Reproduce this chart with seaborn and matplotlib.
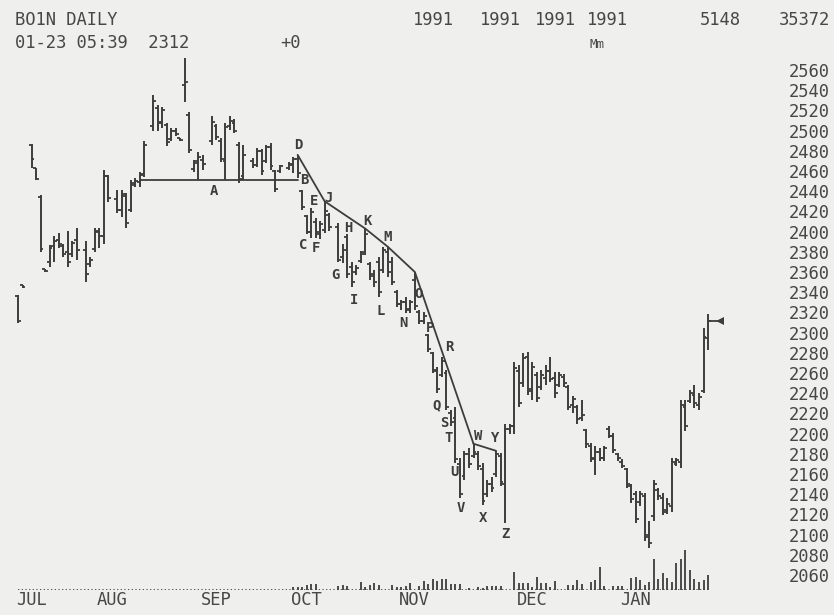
import matplotlib
matplotlib.use("Agg")
import matplotlib.pyplot as plt
import numpy as np
import pandas as pd
import seaborn as sns

# ---------------------------------------------------------------- data
# trading-session number of every bar (gaps = sessions without a print)
sessions = [0, 1, 3, 4, 5, 6, 7, 8, 9, 10, 11, 12, 13,
            15, 16, 17, 18, 19, 20,
            22, 23, 24, 25, 26, 27, 28,
            30, 31, 32, 33, 34, 35, 36, 37, 38, 39, 40, 41,
            43, 44, 45, 46, 47, 48, 49, 50,
            52, 53, 54, 55, 56, 57, 58,
            60, 61, 62, 63, 64, 65, 66, 67, 68, 69,
            71, 72, 73, 74, 75,
            76, 77, 78, 79, 80, 81, 82, 83, 84, 85, 86, 87, 88, 89, 90, 91,
            92, 93, 94, 95, 96, 97, 98, 99, 100, 101, 102, 103, 104, 105, 106,
            107, 108, 109, 110, 111, 112, 113, 114, 115, 116, 117, 118, 119,
            120, 121, 122, 123, 124, 125, 126, 127, 128, 129, 130, 131, 132,
            133, 134, 135, 136, 137, 138, 139, 140, 141, 142, 143, 144, 145,
            146, 147, 148, 149, 150, 151, 152, 153]

high = [2337, 2347, 2487, 2463, 2436, 2363, 2387, 2396, 2399, 2388,
        2401, 2391, 2404, 2391, 2375, 2404, 2404, 2461, 2456, 2441,
        2441, 2438, 2451, 2453, 2459, 2490, 2535, 2525, 2523, 2508,
        2503, 2503, 2493, 2572, 2518, 2471, 2479, 2476, 2514, 2507,
        2493, 2508, 2514, 2511, 2489, 2486, 2473, 2483, 2482, 2486,
        2488, 2461, 2466, 2469, 2474, 2476, 2441, 2416, 2423, 2413,
        2411, 2430, 2418, 2409, 2388, 2398, 2370, 2367, 2381, 2403,
        2370, 2362, 2375, 2385, 2385, 2375, 2342, 2332, 2335, 2332,
        2360, 2322, 2320, 2299, 2281, 2266, 2276, 2263, 2223, 2226,
        2176, 2183, 2186, 2190, 2183, 2171, 2154, 2157, 2183, 2181,
        2210, 2210, 2271, 2268, 2280, 2281, 2271, 2261, 2263, 2268,
        2276, 2261, 2261, 2259, 2248, 2237, 2228, 2233, 2205, 2191,
        2188, 2186, 2188, 2208, 2201, 2181, 2175, 2166, 2150, 2143,
        2143, 2141, 2114, 2154, 2146, 2141, 2136, 2176, 2176, 2233,
        2233, 2243, 2248, 2240, 2305, 2318]

low = [2310, 2344, 2463, 2451, 2380, 2360, 2365, 2370, 2384, 2375,
       2365, 2375, 2372, 2350, 2365, 2380, 2384, 2388, 2429, 2418,
       2414, 2404, 2419, 2444, 2444, 2454, 2500, 2500, 2503, 2485,
       2490, 2495, 2490, 2528, 2478, 2459, 2451, 2461, 2486, 2491,
       2469, 2451, 2501, 2498, 2448, 2451, 2463, 2464, 2456, 2468,
       2461, 2439, 2458, 2461, 2458, 2453, 2421, 2398, 2394, 2394,
       2393, 2399, 2401, 2370, 2369, 2354, 2345, 2357, 2369, 2377,
       2352, 2345, 2335, 2359, 2355, 2347, 2325, 2322, 2319, 2319,
       2322, 2309, 2309, 2281, 2260, 2240, 2256, 2223, 2208, 2171,
       2136, 2154, 2166, 2176, 2164, 2129, 2137, 2142, 2157, 2148,
       2112, 2200, 2200, 2226, 2246, 2238, 2233, 2231, 2243, 2248,
       2251, 2235, 2246, 2246, 2223, 2220, 2210, 2213, 2186, 2172,
       2159, 2173, 2173, 2196, 2181, 2173, 2166, 2146, 2131, 2112,
       2128, 2094, 2087, 2114, 2134, 2119, 2120, 2122, 2168, 2166,
       2203, 2230, 2225, 2223, 2240, 2283]

open_ = [2336, 2347, 2486, 2463, 2434, 2363, 2370, 2386, 2392, 2386,
         2380, 2378, 2392, 2382, 2368, 2383, 2400, 2396, 2455, 2432,
         2421, 2435, 2421, 2446, 2449, 2457, 2505, 2522, 2509, 2506,
         2492, 2500, 2493, 2545, 2515, 2462, 2470, 2471, 2490, 2505,
         2490, 2470, 2505, 2508, 2486, 2455, 2470, 2466, 2480, 2470,
         2484, 2460, 2460, 2463, 2466, 2472, 2440, 2415, 2400, 2410,
         2400, 2402, 2416, 2405, 2375, 2395, 2365, 2360, 2371, 2380,
         2368, 2358, 2370, 2362, 2380, 2370, 2340, 2328, 2330, 2323,
         2352, 2320, 2312, 2298, 2280, 2262, 2258, 2260, 2220, 2215,
         2170, 2158, 2180, 2178, 2180, 2165, 2140, 2150, 2160, 2178,
         2150, 2205, 2208, 2262, 2250, 2276, 2244, 2258, 2246, 2255,
         2262, 2255, 2248, 2256, 2246, 2228, 2226, 2215, 2204, 2188,
         2175, 2182, 2176, 2205, 2198, 2180, 2172, 2165, 2148, 2140,
         2132, 2138, 2100, 2118, 2144, 2136, 2122, 2128, 2170, 2172,
         2226, 2232, 2238, 2228, 2242, 2295]

close = [2312, 2345, 2472, 2452, 2383, 2361, 2384, 2391, 2388, 2378,
         2370, 2389, 2382, 2358, 2372, 2401, 2396, 2455, 2433, 2421,
         2437, 2409, 2448, 2450, 2456, 2486, 2529, 2508, 2520, 2489,
         2500, 2497, 2491, 2548, 2481, 2468, 2474, 2467, 2509, 2494,
         2472, 2504, 2510, 2500, 2452, 2476, 2466, 2480, 2460, 2484,
         2465, 2442, 2465, 2467, 2472, 2458, 2424, 2400, 2419, 2398,
         2408, 2420, 2405, 2372, 2382, 2358, 2350, 2364, 2378, 2398,
         2356, 2350, 2340, 2382, 2360, 2350, 2328, 2330, 2322, 2330,
         2326, 2312, 2316, 2284, 2263, 2244, 2272, 2226, 2212, 2175,
         2140, 2180, 2170, 2182, 2168, 2133, 2150, 2146, 2180, 2152,
         2205, 2208, 2265, 2230, 2275, 2242, 2266, 2235, 2258, 2262,
         2254, 2240, 2258, 2250, 2226, 2234, 2214, 2218, 2190, 2176,
         2182, 2176, 2186, 2198, 2184, 2176, 2168, 2150, 2135, 2115,
         2140, 2098, 2092, 2150, 2138, 2124, 2130, 2172, 2174, 2228,
         2208, 2240, 2230, 2236, 2296, 2312]

volume = [0, 0, 0, 0, 0, 0, 0, 0, 0, 0,
          0, 0, 0, 0, 0, 0, 0, 0, 0, 0,
          0, 0, 0, 0, 0, 0, 0, 0, 0, 0,
          0, 0, 0, 0, 0, 0, 0, 0, 0, 0,
          0, 0, 0, 0, 0, 0, 0, 0, 0, 0,
          0, 0, 0, 0, 350, 430, 430, 650, 780, 780,
          0, 0, 0, 560, 650, 560, 0, 0, 1000, 430,
          650, 870, 650, 0, 0, 650, 350, 350, 560, 870,
          0, 560, 1210, 780, 1430, 1210, 1430, 1430, 780, 780,
          780, 0, 260, 0, 350, 260, 560, 560, 560, 560,
          0, 0, 2340, 910, 910, 910, 390, 1650, 870, 870,
          390, 1210, 0, 0, 650, 650, 1300, 780, 0, 1080,
          1300, 2950, 520, 0, 520, 520, 520, 0, 1520, 1650,
          1300, 650, 1080, 4030, 1430, 2210, 1560, 1040, 3510, 4030,
          5200, 2600, 1430, 1040, 1300, 1950]

month_names = ["JUL", "AUG", "SEP", "OCT", "NOV", "DEC", "JAN"]
month_sessions = [0, 18, 41, 61, 85, 111, 134]
price_ticks = [2060, 2080, 2100, 2120, 2140, 2160, 2180, 2200, 2220, 2240,
               2260, 2280, 2300, 2320, 2340, 2360, 2380, 2400, 2420, 2440,
               2460, 2480, 2500, 2520, 2540, 2560]

last_price = 2312
support_level = 2451
support_bars = [24, 55]                 # first / last bar of the support line
trend_bars = [55, 61, 69, 74, 80, 93]   # highs joined by the down-trend line
rebound_bars = [93, 98]                 # highs joined by the short W-Y line

# wave letters: (letter, bar, anchor)
wave_letters = list("ABCDEFGHIJKLMNOPQRSTUVWXYZ")
wave_bars = [38, 56, 57, 55, 58, 59, 63, 65, 66, 61, 69, 72, 74,
             78, 81, 83, 85, 86, 87, 88, 89, 90, 93, 95, 98, 100]
wave_anchor = ["sup", "hi", "lo", "hi", "hi", "lo", "lo", "hi", "lo", "hi",
               "hi", "lo", "hi", "lo", "hi", "hi", "lo", "hi", "lo", "lo",
               "lo", "lo", "hi", "lo", "hi", "lo"]

n = len(sessions)
for arr in (high, low, open_, close, volume):
    assert len(arr) == n, len(arr)

# ---------------------------------------------------------------- style
BG = "#efefed"
INK = "#3d3d3d"
TXT = "#474747"
MONO = ["DejaVu Sans Mono", "DejaVu Sans"]

sns.set_style("white", rc={"axes.facecolor": BG, "figure.facecolor": BG})
plt.rcParams["font.family"] = MONO

W, H = 834, 615
fig = plt.figure(figsize=(W / 100, H / 100), dpi=100, facecolor=BG)


def px_box(left, top, right, bottom):
    return [left / W, 1 - bottom / H, (right - left) / W, (bottom - top) / H]


XLIM = (-3.99, 168.96)
ax = fig.add_axes(px_box(0, 20, 780, 590))
ax.set_facecolor(BG)
ax.set_xlim(*XLIM)
ax.set_ylim(2045.2, 2609.5)

ax_vol = fig.add_axes(px_box(0, 490, 780, 590))
ax_vol.patch.set_alpha(0)
ax_vol.set_xlim(*XLIM)
ax_vol.set_ylim(0, 13000)
ax_vol.axis("off")

x = np.array(sessions, dtype=float)
hi = np.array(high, dtype=float)
lo = np.array(low, dtype=float)
op = np.array(open_, dtype=float)
cl = np.array(close, dtype=float)
tick = 0.65

# ---------------------------------------------------------------- price bars
ax.vlines(x, lo, hi, color=INK, lw=1.4)
ax.hlines(op, x - tick, x, color=INK, lw=1.3)
ax.hlines(cl, x, x + tick, color=INK, lw=1.3)

# ---------------------------------------------------------------- trend lines
seg_rows = []
for b in support_bars:
    seg_rows.append(("support", x[b], support_level))
for b in trend_bars:
    seg_rows.append(("trend", x[b], hi[b]))
for b in rebound_bars:
    seg_rows.append(("rebound", x[b], hi[b]))
lines = pd.DataFrame(seg_rows, columns=["segment", "session", "price"])
sns.lineplot(data=lines, x="session", y="price", units="segment",
             estimator=None, sort=False, color=INK, lw=1.3, ax=ax,
             legend=False)

# ---------------------------------------------------------------- wave letters
letter_offsets = {
    "A": (2, -11), "B": (2, 10), "C": (-3, -11), "D": (1, 10), "E": (3, 7),
    "F": (0, -10), "G": (-3, -13), "H": (1, 6), "I": (2, -13), "J": (4, 3),
    "K": (2, 8), "L": (2, -14), "M": (0, 10), "N": (-2, -10), "O": (-1, 16),
    "P": (2, 6), "Q": (-1, -12), "R": (7, 10), "S": (-2, -13), "T": (-2, -12),
    "U": (-1, -9), "V": (1, -10), "W": (5, 8), "X": (0, -13), "Y": (-1, 13),
    "Z": (0, -11),
}
for letter, b, anc in zip(wave_letters, wave_bars, wave_anchor):
    if anc == "hi":
        yv = hi[b]
    elif anc == "lo":
        yv = lo[b]
    else:
        yv = support_level
    ax.annotate(letter, xy=(x[b], yv), xytext=letter_offsets[letter],
                textcoords="offset pixels", ha="center", va="center",
                fontsize=10, fontweight="bold", color=INK, family=MONO)

# last-price flag
ax.plot([x[-1], x[-1] + 2.4], [last_price, last_price], color=INK, lw=1.3)
ax.plot([x[-1] + 2.6], [last_price], marker="<", ms=5.5, color=INK,
        markeredgewidth=0)

# ---------------------------------------------------------------- axes cosmetics
for side in ax.spines.values():
    side.set_visible(False)
ax.set_xticks([])
ax.set_xlabel("")
ax.set_ylabel("")
ax.yaxis.tick_right()
ax.set_yticks(price_ticks)
ax.set_yticklabels([str(v) for v in price_ticks])
ax.tick_params(axis="y", length=0, pad=6, labelsize=12.3, labelcolor=TXT)

# ---------------------------------------------------------------- volume
vol = np.array(volume, dtype=float)
ax_vol.plot([x[0], x[-1]], [0, 0], color=INK, lw=1.2,
            linestyle=(0, (0.8, 1.4)))
ax_vol.vlines(x, 0, vol, color=INK, lw=1.3)

for name, s in zip(month_names, month_sessions):
    ax_vol.annotate(name, xy=(s, 0), xytext=(-2, -10),
                    textcoords="offset pixels", ha="left", va="center",
                    fontsize=12.3, color=TXT, family=MONO)

# ---------------------------------------------------------------- header
def header(px, py, s, size=12.3):
    fig.text(px / W, 1 - py / H, s, ha="left", va="center",
             fontsize=size, color=TXT, family=MONO)


header(15, 20, "BO1N DAILY")
header(15, 43, "01-23 05:39  2312")
header(280, 43, "+0")
for px in (413, 480, 535, 587):
    header(px, 20, "1991")
header(589, 44, "Mm", size=9)
header(700, 20, "5148")
header(779, 20, "35372")

fig.savefig("out.png", dpi=100, facecolor=BG)
